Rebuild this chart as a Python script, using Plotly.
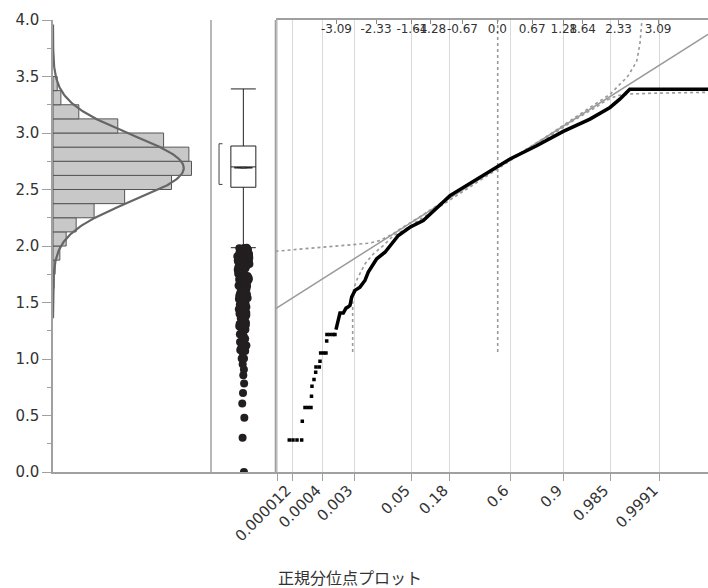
import math
from statistics import NormalDist
import plotly.graph_objects as go

# ---------------- data ----------------
# histogram (horizontal) : lower bin edges and counts
hist_bin_lower = [1.5, 1.625, 1.75, 1.875, 2.0, 2.125, 2.25, 2.375, 2.5, 2.625,
                  2.75, 2.875, 3.0, 3.125, 3.25, 3.375]
hist_counts = [1, 2, 4, 13, 25, 44, 78, 136, 225, 263, 258, 210, 123, 49, 15, 8]
bin_width = 0.125

# fitted normal
fit_mean = 2.69
fit_sd = 0.292

# outlier box plot
box_q1 = 2.52
box_median = 2.70
box_q3 = 2.885
box_low_whisker = 1.985
box_high_whisker = 3.39
shortest_half = [2.545, 2.905]
mean_ci = [2.687, 2.697]
box_outliers = [1.985, 1.982, 1.98, 1.977, 1.975, 1.972, 1.97, 1.965, 1.96, 1.957,
                1.955, 1.95, 1.945, 1.94, 1.935, 1.93, 1.925, 1.92, 1.915, 1.91,
                1.905, 1.90, 1.895, 1.89, 1.885, 1.88, 1.875, 1.87, 1.865, 1.86,
                1.855, 1.85, 1.845, 1.84, 1.835, 1.83, 1.825, 1.82, 1.815, 1.81,
                1.80, 1.795, 1.79, 1.78, 1.775, 1.77, 1.76, 1.755, 1.75, 1.74, 1.735,
                1.73, 1.72, 1.71, 1.705, 1.70, 1.69, 1.68, 1.675, 1.67, 1.66, 1.65,
                1.645, 1.64, 1.63, 1.62, 1.61, 1.60, 1.59, 1.58, 1.57, 1.56, 1.55,
                1.54, 1.53, 1.52, 1.51, 1.50, 1.49, 1.48, 1.47, 1.46, 1.45, 1.44,
                1.43, 1.42, 1.41, 1.40, 1.39, 1.38, 1.37, 1.36, 1.35, 1.33, 1.32,
                1.31, 1.30, 1.29, 1.28, 1.27, 1.26, 1.25, 1.24, 1.22, 1.21, 1.20,
                1.18, 1.17, 1.16, 1.15, 1.13, 1.12, 1.10, 1.08, 1.07, 1.06, 1.004,
                1.004, 0.954, 0.907, 0.857, 0.783, 0.70, 0.607, 0.48, 0.303, 0.0]

# normal quantile plot: (normal quantile, value)
qq_tail_z = [-3.997, -3.926, -3.849, -3.759, -3.747, -3.695, -3.638, -3.580, -3.570,
             -3.561, -3.522, -3.490, -3.484, -3.420, -3.407, -3.394, -3.340, -3.292,
             -3.278, -3.273, -3.215, -3.157, -3.119]
qq_tail_v = [0.283, 0.283, 0.283, 0.283, 0.450, 0.571, 0.571, 0.571, 0.671,
             0.759, 0.818, 0.883, 0.930, 0.930, 0.980, 1.053, 1.053, 1.053,
             1.159, 1.216, 1.216, 1.216, 1.216]
qq_body_z = [-3.100, -3.080, -3.061, -3.042, -3.023, -2.959, -2.907, -2.869, -2.830,
             -2.798, -2.734, -2.639, -2.543, -2.479, -2.383, -2.317, -2.158, -2.029,
             -1.902, -1.678, -1.422, -0.909, -0.396, -0.012, 0.244, 0.757, 1.268,
             1.781, 2.166, 2.354, 2.546, 3.0, 3.5, 4.1]
qq_body_v = [1.260, 1.298, 1.327, 1.357, 1.407, 1.407, 1.450, 1.460, 1.475,
             1.548, 1.607, 1.636, 1.695, 1.769, 1.843, 1.887, 1.945, 2.019,
             2.093, 2.166, 2.225, 2.446, 2.593, 2.702, 2.770, 2.887, 3.014,
             3.123, 3.226, 3.299, 3.388, 3.388, 3.388, 3.388]

# confidence bands (dotted)
band_upper_z = [-4.26, -3.73, -3.09, -2.45, -2.25, -2.0, -1.8, -1.5, -1.0, -0.5, 0.0,
                0.5, 1.0, 1.5, 2.0, 2.17, 2.42, 2.49, 2.61, 2.68, 2.74, 2.775, 2.78]
band_upper_v = [1.954, 1.975, 1.998, 2.025, 2.05, 2.11, 2.17, 2.255, 2.405, 2.55, 2.69,
                2.84, 2.985, 3.14, 3.29, 3.344, 3.461, 3.49, 3.579, 3.638, 3.785, 3.976, 4.0]
band_lower_z = [-2.779, -2.779, -2.76, -2.69, -2.54, -2.38, -2.19, -2.0, -1.8, -1.5,
                -1.0, -0.5, 0.0, 0.5, 1.0, 1.5, 1.9, 2.1, 2.3, 2.55, 3.0, 4.05]
band_lower_v = [1.062, 1.548, 1.62, 1.71, 1.843, 1.931, 2.004, 2.09, 2.14, 2.23,
                2.385, 2.535, 2.68, 2.83, 2.97, 3.12, 3.23, 3.29, 3.33, 3.345, 3.352, 3.36]
band_mid_z = [0.008, 0.008]
band_mid_v = [1.062, 4.0]

# axis ticks
y_ticks = [0.0, 0.5, 1.0, 1.5, 2.0, 2.5, 3.0, 3.5, 4.0]
y_minor = [0.25, 0.75, 1.25, 1.75, 2.25, 2.75, 3.25, 3.75]
# probability ticks; the "0.000012" label sits on the first inner gridline as drawn
prob_ticks = [0.000012, 0.0000425, 0.0004, 0.003, 0.05, 0.18, 0.6, 0.9, 0.985, 0.9991]
prob_labels = ["", "0.000012", "0.0004", "0.003", "0.05", "0.18", "0.6", "0.9",
               "0.985", "0.9991"]
quant_ticks = [-3.09, -2.33, -1.64, -1.28, -0.67, 0.0, 0.67, 1.28, 1.64, 2.33, 3.09]
quant_labels = ["-3.09", "-2.33", "-1.64", "-1.28", "-0.67", "0.0", "0.67", "1.28",
                "1.64", "2.33", "3.09"]
title_text = "正規分位点プロット"

# ---------------- figure ----------------
nd = NormalDist()
prob_z = [nd.inv_cdf(p) for p in prob_ticks]
N = sum(hist_counts)

fig = go.Figure()

# histogram
fig.add_trace(go.Bar(
    y=[b + bin_width / 2 for b in hist_bin_lower], x=hist_counts, orientation="h",
    width=bin_width, marker=dict(color="#c8c8c8", line=dict(color="#555555", width=1)),
    xaxis="x", yaxis="y", hoverinfo="skip"))

# normal density curve
curve_y = [1.36 + i * 0.01 for i in range(261)]
curve_x = [N * bin_width * math.exp(-0.5 * ((v - fit_mean) / fit_sd) ** 2) /
           (fit_sd * math.sqrt(2 * math.pi)) for v in curve_y]
fig.add_trace(go.Scatter(x=curve_x, y=curve_y, mode="lines",
                         line=dict(color="#666666", width=2.2),
                         xaxis="x", yaxis="y", hoverinfo="skip"))

# box plot
fig.add_trace(go.Box(
    x=[0.5], q1=[box_q1], median=[box_median], q3=[box_q3],
    lowerfence=[box_low_whisker], upperfence=[box_high_whisker],
    width=0.386, whiskerwidth=1, fillcolor="white",
    line=dict(color="#222222", width=1), boxpoints=False,
    xaxis="x2", yaxis="y2", hoverinfo="skip"))
fig.add_trace(go.Box(
    y=box_outliers, x0=0.5, width=0.386, boxpoints="all", jitter=0.5, pointpos=0,
    fillcolor="rgba(0,0,0,0)", line=dict(width=0, color="rgba(0,0,0,0)"),
    marker=dict(size=8, color="#231f20"), xaxis="x2", yaxis="y2", hoverinfo="skip"))
# mean diamond (thin)
fig.add_trace(go.Scatter(
    x=[0.36, 0.5, 0.64, 0.5, 0.36],
    y=[sum(mean_ci) / 2, mean_ci[1], sum(mean_ci) / 2, mean_ci[0], sum(mean_ci) / 2],
    mode="lines", line=dict(color="#222222", width=1.0),
    xaxis="x2", yaxis="y2", hoverinfo="skip"))
# shortest half bracket
fig.add_trace(go.Scatter(
    x=[0.178, 0.124, 0.124, 0.178],
    y=[shortest_half[1], shortest_half[1], shortest_half[0], shortest_half[0]],
    mode="lines", line=dict(color="#444444", width=1),
    xaxis="x2", yaxis="y2", hoverinfo="skip"))

# quantile plot: bands
for bz, bv in [(band_upper_z, band_upper_v), (band_lower_z, band_lower_v),
               (band_mid_z, band_mid_v)]:
    fig.add_trace(go.Scatter(x=bz, y=bv, mode="lines",
                             line=dict(color="#9a9a9a", width=1.6, dash="dot"),
                             xaxis="x3", yaxis="y3", hoverinfo="skip"))
# fit line
zr = [-4.258, 4.049]
fig.add_trace(go.Scatter(x=zr, y=[fit_mean + fit_sd * z for z in zr], mode="lines",
                         line=dict(color="#9a9a9a", width=1.5),
                         xaxis="x3", yaxis="y3", hoverinfo="skip"))
# data
fig.add_trace(go.Scatter(x=qq_tail_z, y=qq_tail_v, mode="markers",
                         marker=dict(symbol="square", size=3.5, color="black"),
                         xaxis="x3", yaxis="y3", hoverinfo="skip"))
fig.add_trace(go.Scatter(x=qq_body_z, y=qq_body_v, mode="lines",
                         line=dict(color="black", width=3.5),
                         xaxis="x3", yaxis="y3", hoverinfo="skip"))
# invisible trace anchoring the top (normal quantile) axis
fig.add_trace(go.Scatter(x=zr, y=[0, 0], mode="lines", line=dict(width=0),
                         opacity=0, xaxis="x4", yaxis="y3", hoverinfo="skip"))

axcol = "#a0a0a0"
tickfont = dict(family="DejaVu Sans", size=15, color="#333333")
d1 = 158 / 655
d2 = 222.7 / 655

fig.update_layout(
    width=708, height=588, margin=dict(l=53, r=0, t=20, b=116, autoexpand=False),
    paper_bgcolor="white", plot_bgcolor="white", showlegend=False,
    xaxis=dict(domain=[0, d1], range=[0, 300], anchor="y", showticklabels=False,
               showgrid=False, zeroline=False, showline=True, linecolor=axcol,
               linewidth=1.5, ticks="", automargin=False),
    yaxis=dict(domain=[0, 1], range=[0, 4], anchor="x", tickvals=y_ticks,
               ticktext=[f"{v:.1f}" for v in y_ticks], ticks="outside", ticklen=9,
               tickcolor=axcol, tickwidth=1, showline=True, linecolor=axcol,
               linewidth=1.5, showgrid=False, zeroline=False, tickfont=tickfont,
               automargin=False,
               minor=dict(tickvals=y_minor, ticks="outside", ticklen=4,
                          tickcolor=axcol, showgrid=False)),
    xaxis2=dict(domain=[d1, d2], range=[0, 1], anchor="y2", showticklabels=False,
                showgrid=False, zeroline=False, showline=True, linecolor=axcol,
                linewidth=1.5, ticks="", automargin=False),
    yaxis2=dict(domain=[0, 1], anchor="x2", matches="y", showticklabels=False,
                showgrid=False, zeroline=False, showline=False, ticks="",
                automargin=False),
    xaxis3=dict(domain=[d2, 1], range=zr, anchor="y3", tickvals=prob_z,
                ticktext=prob_labels, tickangle=-45, ticks="outside", ticklen=7,
                tickcolor=axcol, showgrid=True, gridcolor="#d9d9d9", gridwidth=1,
                zeroline=False, showline=True, linecolor=axcol, linewidth=1.5,
                tickfont=tickfont, automargin=False, ticklabelshift=-6,
                ticklabelstandoff=-5),
    yaxis3=dict(domain=[0, 1], anchor="x3", matches="y", showticklabels=False,
                showgrid=False, zeroline=False, showline=False, ticks="",
                automargin=False),
    xaxis4=dict(overlaying="x3", side="top", anchor="y3", range=zr,
                tickvals=quant_ticks, ticktext=quant_labels, ticks="inside",
                ticklen=4, tickcolor="#888888", ticklabelposition="inside",
                tickangle=0, showline=True, linecolor=axcol, linewidth=1.5,
                showgrid=False, zeroline=False, automargin=False,
                tickfont=dict(family="DejaVu Sans", size=12, color="#333333")),
    shapes=[
        dict(type="line", xref="paper", yref="paper", x0=d1, x1=d1, y0=0, y1=1,
             line=dict(color=axcol, width=1.5)),
        dict(type="line", xref="paper", yref="paper", x0=d2, x1=d2, y0=0, y1=1,
             line=dict(color=axcol, width=2)),
    ],
    annotations=[dict(text=title_text, xref="paper", yref="paper",
                      x=(350 - 53) / 655, y=-105 / 452, xanchor="center",
                      yanchor="middle", showarrow=False,
                      font=dict(family="Noto Sans CJK JP", size=16, color="#333333"))],
)

fig.write_html("out.html", config={"displayModeBar": False},
               post_script="document.body.style.margin='0';"
                           "document.body.style.padding='0';")
